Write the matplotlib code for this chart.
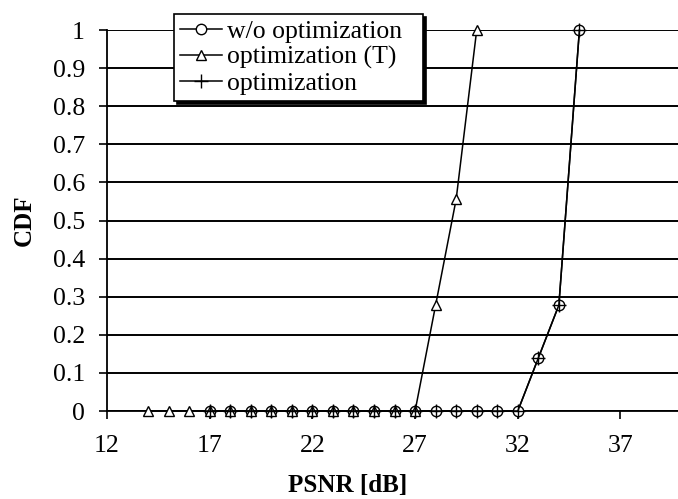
import matplotlib
matplotlib.use("Agg")
import matplotlib.pyplot as plt

# Data
x_wo = [17, 18, 19, 20, 21, 22, 23, 24, 25, 26, 27, 28, 29, 30, 31, 32, 33, 34, 35]
y_wo = [0, 0, 0, 0, 0, 0, 0, 0, 0, 0, 0, 0, 0, 0, 0, 0, 0.139, 0.278, 1.0]
x_t = [14, 15, 16, 17, 18, 19, 20, 21, 22, 23, 24, 25, 26, 27, 28, 29, 30]
y_t = [0, 0, 0, 0, 0, 0, 0, 0, 0, 0, 0, 0, 0, 0, 0.278, 0.556, 1.0]
x_opt = [17, 18, 19, 20, 21, 22, 23, 24, 25, 26, 27, 28, 29, 30, 31, 32, 33, 34, 35]
y_opt = [0, 0, 0, 0, 0, 0, 0, 0, 0, 0, 0, 0, 0, 0, 0, 0, 0.139, 0.278, 1.0]
labels = ["w/o optimization", "optimization (T)", "optimization"]
xticks = [12, 17, 22, 27, 32, 37]
yticks = [0, 0.1, 0.2, 0.3, 0.4, 0.5, 0.6, 0.7, 0.8, 0.9, 1]
ytick_labels = ["0", "0.1", "0.2", "0.3", "0.4", "0.5", "0.6", "0.7", "0.8", "0.9", "1"]

plt.rcParams['font.family'] = ['Liberation Serif', 'DejaVu Serif']

fig = plt.figure(figsize=(6.78, 4.99), dpi=100)
W, H = 678, 499
ax = fig.add_axes([107 / W, (H - 411) / H, (W - 107) / W, (411 - 30) / H])

ax.set_xlim(12, 39.8)
ax.set_ylim(0, 1)

for y in yticks:
    ax.axhline(y, color='black', lw=1.4, zorder=1)

ax.plot(x_wo, y_wo, color='black', lw=1.1, marker='o', ms=7.5, mfc='white',
        mec='black', mew=1.0, label=labels[0], clip_on=False, zorder=3)
ax.plot(x_t, y_t, color='black', lw=1.1, marker='^', ms=7, mfc='white',
        mec='black', mew=1.0, label=labels[1], clip_on=False, zorder=3)
ax.plot(x_opt, y_opt, color='black', lw=1.1, marker='+', ms=10,
        mec='black', mew=1.0, label=labels[2], clip_on=False, zorder=4)

ax.set_xticks(xticks)
ax.set_xticklabels([str(v) for v in xticks])
ax.set_yticks(yticks)
ax.set_yticklabels(ytick_labels)
ax.tick_params(axis='both', direction='out', length=6, width=1.2, labelsize=18.5, colors='black')
ax.tick_params(axis='x', pad=11)
ax.tick_params(axis='y', pad=10)

for s in ['top', 'right']:
    ax.spines[s].set_visible(False)
for s in ['left', 'bottom']:
    ax.spines[s].set_linewidth(1.3)
    ax.spines[s].set_color('black')

ax.set_xlabel("PSNR [dB]", fontsize=18, fontweight='bold')
ax.xaxis.set_label_coords((348 - 107) / (W - 107), -(474 - 411) / (411 - 30))
ax.set_ylabel("CDF", fontsize=18, fontweight='bold')
ax.yaxis.set_label_coords(-(107 - 36) / (W - 107), 0.5)

x0 = (174 - 107) / (W - 107)
x1 = (423 - 107) / (W - 107)
ytop = (411 - 14) / (411 - 30)
leg = ax.legend(loc='upper left', bbox_to_anchor=(x0, ytop - 0.3, x1 - x0, 0.3), mode='expand',
                frameon=True, fancybox=False, shadow={'color': 'black', 'alpha': 1.0},
                edgecolor='black', framealpha=1, fontsize=18.5, handlelength=1.6,
                handletextpad=0.2, labelspacing=0.1, borderpad=0.25, borderaxespad=0)
leg.get_frame().set_linewidth(1.2)

fig.savefig("out.png", dpi=100)
